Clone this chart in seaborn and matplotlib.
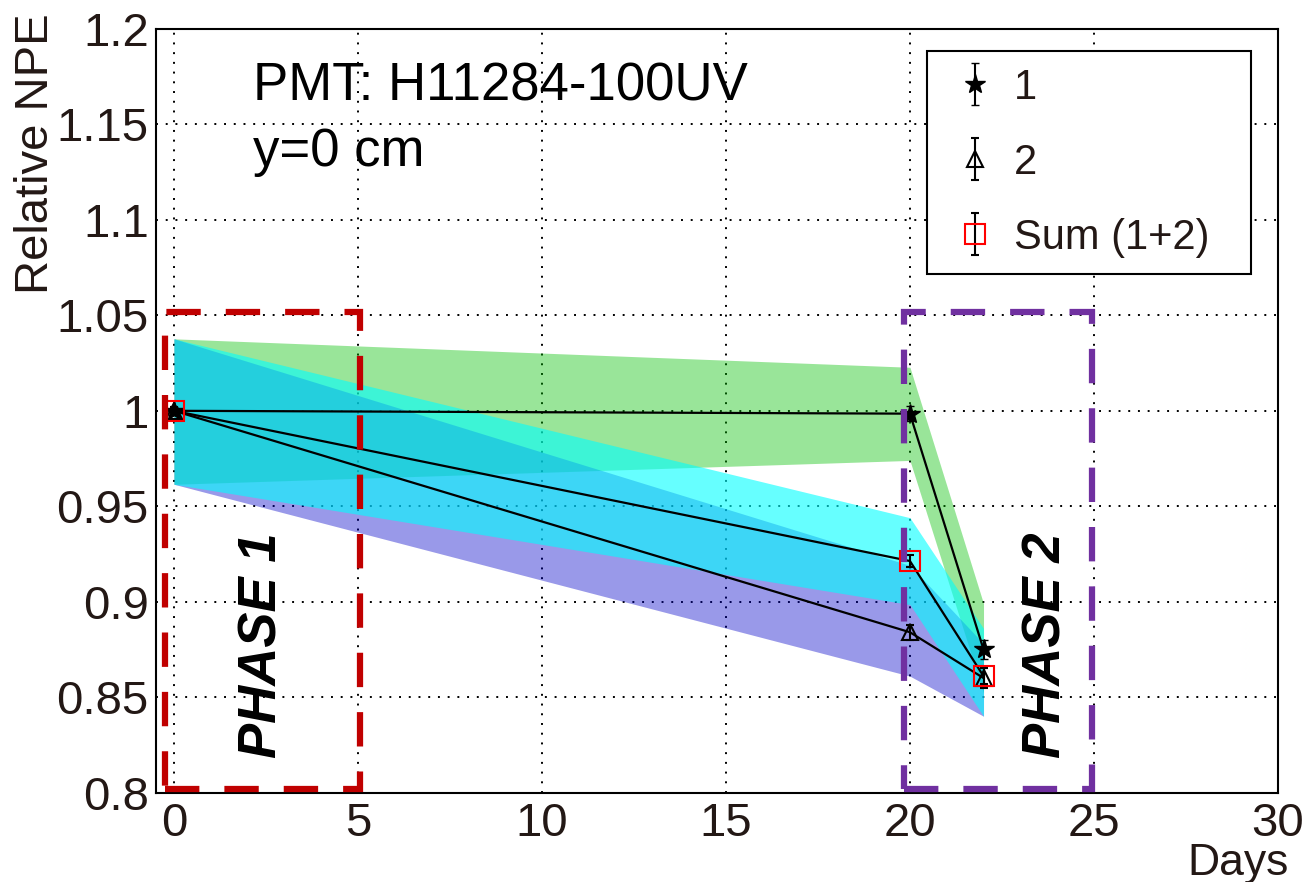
import matplotlib
matplotlib.use("Agg")
import matplotlib.pyplot as plt
import seaborn as sns
import pandas as pd
from matplotlib.patches import Rectangle
from matplotlib.ticker import MultipleLocator, FixedLocator, FixedFormatter

# ---------------- data ----------------
days = [0, 20, 22]
npe_1 = [1.0, 0.9985, 0.875]
err_1 = [0.002, 0.004, 0.005]
npe_2 = [1.0, 0.884, 0.860]
err_2 = [0.002, 0.004, 0.005]
npe_sum = [1.0, 0.9213, 0.861]
err_sum = [0.002, 0.003, 0.004]

band1_lo = [0.9615, 0.974, 0.852]
band1_hi = [1.0377, 1.0228, 0.899]
band2_lo = [0.9615, 0.861, 0.840]
band2_hi = [1.0377, 0.919, 0.878]
bandsum_lo = [0.9615, 0.8985, 0.840]
bandsum_hi = [1.0377, 0.944, 0.886]

series_labels = ["1", "2", "Sum (1+2)"]
xticks = [0, 5, 10, 15, 20, 25, 30]
xtick_labels = ["0", "5", "10", "15", "20", "25", "30"]
yticks = [0.8, 0.85, 0.9, 0.95, 1.0, 1.05, 1.1, 1.15, 1.2]
ytick_labels = ["0.8", "0.85", "0.9", "0.95", "1", "1.05", "1.1", "1.15", "1.2"]

phase1_box = (-0.24, 0.802, 5.05, 1.052)
phase2_box = (19.84, 0.802, 24.95, 1.052)

# ---------------- style ----------------
sns.set_theme(style="white")
plt.rcParams["font.family"] = ["Liberation Sans", "DejaVu Sans"]
TXT = "#231815"

fig = plt.figure(figsize=(13.12, 8.82), dpi=100)
ax = fig.add_axes([0.1186, 0.1014, 0.8554, 0.8657])

# bands
ax.fill_between(days, band1_lo, band1_hi, color="#00c000", alpha=0.4, lw=0, zorder=1)
ax.fill_between(days, band2_lo, band2_hi, color="#0000c8", alpha=0.4, lw=0, zorder=1.1)
ax.fill_between(days, bandsum_lo, bandsum_hi, color="#00ffff", alpha=0.6, lw=0, zorder=1.2)

# connecting lines via seaborn
df = pd.DataFrame({
    "day": days * 3,
    "npe": npe_1 + npe_2 + npe_sum,
    "series": [series_labels[0]] * 3 + [series_labels[1]] * 3 + [series_labels[2]] * 3,
})
sns.lineplot(data=df, x="day", y="npe", units="series", estimator=None,
             color="black", lw=1.6, ax=ax, zorder=3, legend=False)

# markers with error bars
h1 = ax.errorbar(days, npe_1, yerr=err_1, fmt="*", color="black", ms=15,
                 elinewidth=1.5, capsize=3, zorder=5, label=series_labels[0])
h2 = ax.errorbar(days, npe_2, yerr=err_2, fmt="^", color="black", mfc="none",
                 mew=1.5, ms=12, elinewidth=1.5, capsize=3, zorder=5, label=series_labels[1])
h3 = ax.errorbar(days, npe_sum, yerr=err_sum, fmt="s", color="black", mec="red",
                 mfc="none", mew=1.5, ms=15, elinewidth=1.5, capsize=3, zorder=5,
                 label=series_labels[2])

# axes
ax.set_xlim(-0.5, 30)
ax.set_ylim(0.8, 1.2)
ax.xaxis.set_major_locator(FixedLocator(xticks))
ax.xaxis.set_major_formatter(FixedFormatter(xtick_labels))
ax.xaxis.set_minor_locator(MultipleLocator(1))
ax.yaxis.set_major_locator(FixedLocator(yticks))
ax.yaxis.set_major_formatter(FixedFormatter(ytick_labels))
ax.yaxis.set_minor_locator(MultipleLocator(0.01))
ax.tick_params(axis="both", which="major", direction="in", length=12, width=1.3,
               color="black", labelsize=34, labelcolor=TXT)
ax.tick_params(axis="both", which="minor", direction="in", length=6, width=1.3, color="black")
ax.tick_params(axis="y", which="major", pad=5)
ax.tick_params(axis="x", which="major", pad=7)
ax.tick_params(top=False, right=False, which="both")
for s in ax.spines.values():
    s.set_color("black")
    s.set_linewidth(1.5)
ax.grid(True, which="major", color="black", linestyle=(0, (1, 4)), linewidth=1.4)
ax.set_axisbelow(True)

ax.set_ylabel("Relative NPE", fontsize=34, color=TXT, loc="top")
ax.yaxis.set_label_coords(-0.087, 1.02)
ax.set_xlabel("Days", fontsize=32, color=TXT, loc="right")
ax.xaxis.set_label_coords(1.01, -0.066)

# annotation texts
ax.text(2.15, 1.1625, "PMT: H11284-100UV", fontsize=38, color="black", va="baseline")
ax.text(2.15, 1.128, "y=0 cm", fontsize=38, color="black", va="baseline")
ax.text(2.4, 0.877, "PHASE 1", fontsize=38, fontweight="bold", fontstyle="italic",
        rotation=90, ha="center", va="center", color="black", zorder=6)
ax.text(23.7, 0.877, "PHASE 2", fontsize=38, fontweight="bold", fontstyle="italic",
        rotation=90, ha="center", va="center", color="black", zorder=6)

# dashed phase boxes
for (x0, y0, x1, y1), col in [(phase1_box, "#c00000"), (phase2_box, "#7030a0")]:
    ax.add_patch(Rectangle((x0, y0), x1 - x0, y1 - y0, fill=False, edgecolor=col,
                           lw=4.5, linestyle=(0, (5.5, 4)), clip_on=False, zorder=7))

# legend
leg = ax.legend(handles=[h1, h2, h3], labels=series_labels, loc="upper left",
                bbox_to_anchor=(0.687, 0.971, 0.289, 0.0), mode="expand",
                fontsize=30, frameon=True, fancybox=False, shadow=False,
                edgecolor="black", framealpha=1, borderpad=0.4, labelspacing=0.84,
                handlelength=1.5, handletextpad=0.2, borderaxespad=0)
leg.get_frame().set_linewidth(1.5)
for t in leg.get_texts():
    t.set_color(TXT)

fig.savefig("out.png", dpi=100)
